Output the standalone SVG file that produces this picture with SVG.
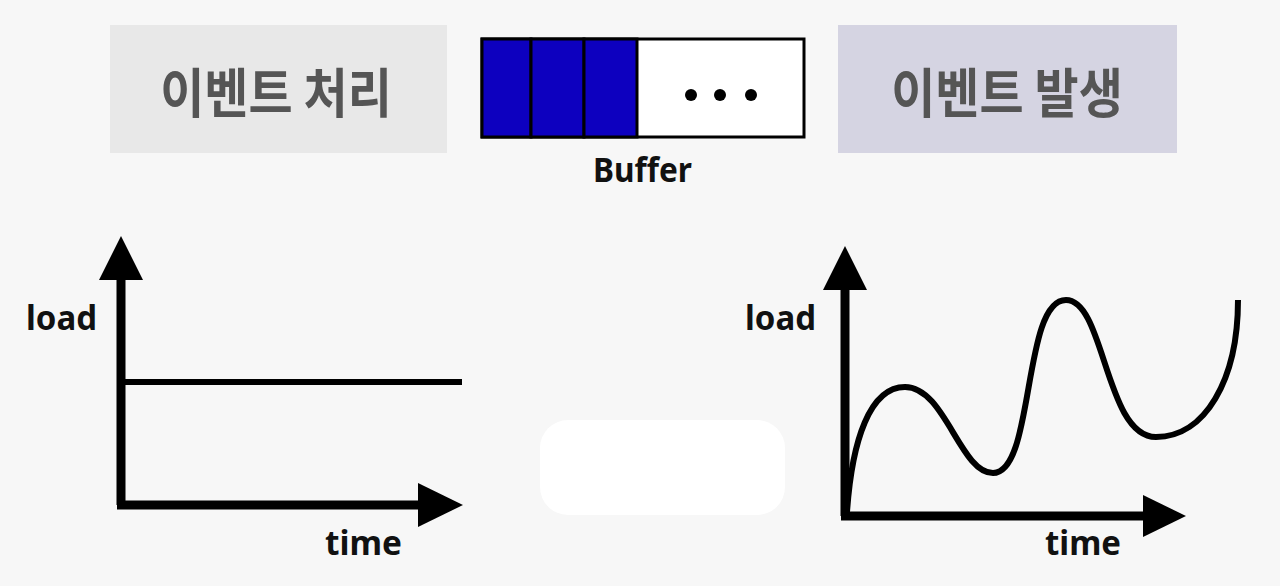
<svg xmlns="http://www.w3.org/2000/svg" width="1280" height="586" viewBox="0 0 1280 586">
<style>
.kr{font-family:"Noto Sans CJK KR","Noto Sans",sans-serif;font-weight:700;font-size:48px;fill:#555555;text-anchor:middle}
.lbl{font-family:"Noto Sans","Liberation Sans",sans-serif;font-weight:700;font-size:34px;fill:#111}
.ax{stroke:#000;stroke-width:9;fill:none}
.cv{stroke:#000;stroke-width:6;fill:none}
.head{fill:#000}
.cell{fill:#0d00bf;stroke:#000;stroke-width:3}
</style>
<rect width="1280" height="586" fill="#f7f7f7"/>
<g id="blob"><rect x="540" y="420" width="245" height="95" rx="28" fill="#ffffff"/></g>
<g id="processing">
<rect x="110" y="25" width="337" height="128" fill="#e8e8e8"/>
<text class="kr" transform="translate(276,113) scale(1,1.12)">이벤트 처리</text>
</g>
<g id="occurrence">
<rect x="838" y="25" width="339" height="128" fill="#d5d4e2"/>
<text class="kr" transform="translate(1007,113) scale(1,1.12)">이벤트 발생</text>
</g>
<g id="buffer">
<rect x="482" y="39" width="322" height="98" fill="#ffffff" stroke="#000" stroke-width="3"/>
<rect class="cell" x="482" y="39" width="49" height="98"/>
<rect class="cell" x="531" y="39" width="53" height="98"/>
<rect class="cell" x="584" y="39" width="53" height="98"/>
<circle cx="691" cy="95" r="6"/>
<circle cx="720" cy="95" r="6"/>
<circle cx="751" cy="95" r="6"/>
<text class="lbl" x="593" y="182" font-size="30" textLength="99" lengthAdjust="spacingAndGlyphs">Buffer</text>
</g>
<g id="chart-left">
<line class="ax" x1="121" y1="270" x2="121" y2="505"/>
<line class="ax" x1="117" y1="505" x2="425" y2="505"/>
<polygon class="head" points="121,236 99,280 143,280"/>
<polygon class="head" points="463,505 418,483 418,527"/>
<line class="cv" x1="121" y1="382" x2="462" y2="382"/>
<text class="lbl" x="26" y="330" textLength="71" lengthAdjust="spacingAndGlyphs">load</text>
<text class="lbl" x="325" y="555" textLength="77" lengthAdjust="spacingAndGlyphs">time</text>
</g>
<g id="chart-right">
<line class="ax" x1="845" y1="280" x2="845" y2="516"/>
<line class="ax" x1="841" y1="516" x2="1150" y2="516"/>
<polygon class="head" points="845,246 823,290 867,290"/>
<polygon class="head" points="1186,516 1143,495 1143,537"/>
<path class="cv" d="M847,512 C852,440 870,387 905,387 C945,387 960,473 993,473 C1035,473 1022,300 1066,300 C1105,300 1105,437 1156,437 C1205,437 1238,380 1238,300"/>
<text class="lbl" x="745" y="330" textLength="71" lengthAdjust="spacingAndGlyphs">load</text>
<text class="lbl" x="1045" y="555" textLength="76" lengthAdjust="spacingAndGlyphs">time</text>
</g>
</svg>
